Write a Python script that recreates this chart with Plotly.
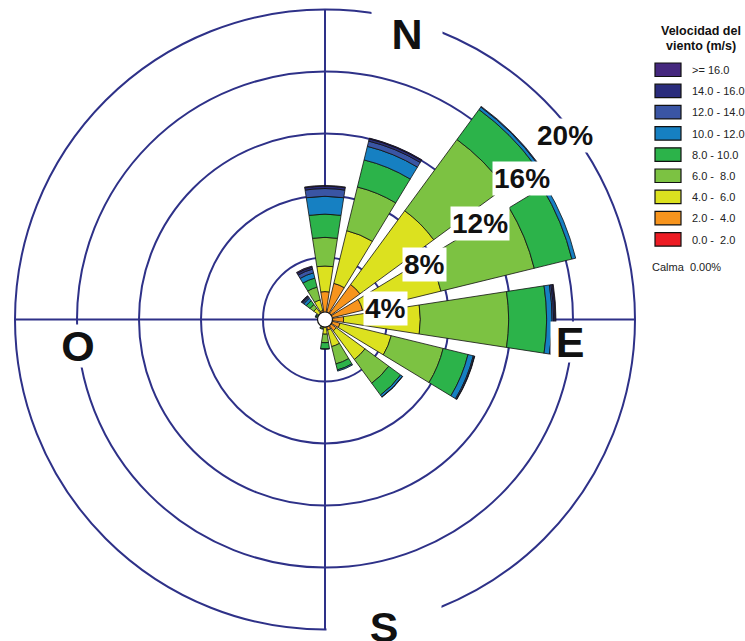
import plotly.graph_objects as go

# Canvas and polar placement (pixels)
W, H = 745, 641
CX, CY, R = 325, 319.5, 310
NAVY = "#2e3188"
FONT = "Liberation Sans, Arial, sans-serif"

# Wind directions (16 sectors, clockwise from north)
directions = ["N", "NNE", "NE", "ENE", "E", "ESE", "SE", "SSE",
              "S", "SSW", "SW", "WSW", "W", "WNW", "NW", "NNW"]
theta = [i * 22.5 for i in range(len(directions))]

# Frequency (%) per speed class and direction
s_0_2   = [0.30, 0.30, 0.30, 0.30, 0.30, 0.30, 0.25, 0.20, 0.20, 0.15, 0.10, 0.10, 0.10, 0.10, 0.20, 0.20]
s_2_4   = [1.50, 2.10, 2.50, 2.20, 0.90, 0.70, 0.65, 0.50, 0.30, 0.20, 0.10, 0.10, 0.10, 0.15, 0.30, 0.40]
s_4_6   = [1.65, 3.50, 5.90, 5.20, 4.95, 3.40, 2.30, 1.10, 0.45, 0.15, 0.10, 0.05, 0.10, 0.15, 0.40, 0.70]
s_6_8   = [1.85, 2.90, 5.70, 6.20, 5.70, 3.45, 1.90, 1.15, 0.55, 0.10, 0.05, 0.00, 0.00, 0.10, 0.30, 0.85]
s_8_10  = [1.50, 1.80, 2.40, 2.50, 2.45, 1.65, 0.95, 0.40, 0.40, 0.05, 0.00, 0.00, 0.00, 0.10, 0.30, 0.60]
s_10_12 = [1.15, 0.90, 0.20, 0.25, 0.35, 0.35, 0.15, 0.08, 0.02, 0.00, 0.00, 0.00, 0.00, 0.05, 0.20, 0.35]
s_12_14 = [0.50, 0.35, 0.05, 0.00, 0.10, 0.07, 0.02, 0.00, 0.00, 0.00, 0.00, 0.00, 0.00, 0.00, 0.10, 0.25]
s_14_16 = [0.15, 0.15, 0.00, 0.00, 0.10, 0.03, 0.00, 0.00, 0.00, 0.00, 0.00, 0.00, 0.00, 0.00, 0.07, 0.13]
s_16_up = [0.05, 0.05, 0.00, 0.00, 0.05, 0.00, 0.00, 0.00, 0.00, 0.00, 0.00, 0.00, 0.00, 0.00, 0.03, 0.07]

speed_labels = ["0.0 -  2.0", "2.0 -  4.0", "4.0 -  6.0", "6.0 -  8.0", "8.0 - 10.0",
                "10.0 - 12.0", "12.0 - 14.0", "14.0 - 16.0", ">= 16.0"]
speed_colors = ["#ed1c24", "#f7941d", "#dce11f", "#7cc242", "#2cb34a",
                "#1680c2", "#3a55a4", "#2a2c7c", "#45287e"]
series = [s_0_2, s_2_4, s_4_6, s_6_8, s_8_10, s_10_12, s_12_14, s_14_16, s_16_up]

ring_values = [4, 8, 12, 16, 20]
calm_pct = 0.00

fig = go.Figure()
for name, col, vals in zip(speed_labels, speed_colors, series):
    fig.add_trace(go.Barpolar(
        r=[v if v > 0 else None for v in vals],
        theta=theta,
        width=17.5,
        name=name,
        marker=dict(color=col, line=dict(color="#111111", width=0.8)),
        showlegend=False,
        hoverinfo="skip",
    ))

# white calm circle at the centre
fig.add_trace(go.Scatterpolar(
    r=[0], theta=[0], mode="markers",
    marker=dict(size=15, color="white", line=dict(color="#111111", width=1.2)),
    showlegend=False, hoverinfo="skip",
))


def px(x, y):
    return x / W, 1 - y / H


annotations = []
shapes = []

# ring labels with white boxes
ring_label_pos = [(385, 309), (425, 265), (480, 223.5), (521.5, 178), (565, 135)]
for val, (x, y) in zip(ring_values, ring_label_pos):
    ax, ay = px(x, y)
    annotations.append(dict(
        x=ax, y=ay, xref="paper", yref="paper", text=f"<b>{val}%</b>",
        showarrow=False, xanchor="center", yanchor="middle",
        font=dict(family=FONT, size=28, color="#111111"),
        bgcolor="white", borderpad=1,
    ))

# compass labels
compass = [("N", 407, 34, 70, None), ("E", 570, 342, 38, 40),
           ("S", 384, 627, 114, None), ("O", 78, 346, 40, 42)]
for txt, x, y, w, h in compass:
    ax, ay = px(x, y)
    a = dict(x=ax, y=ay, xref="paper", yref="paper", text=f"<b>{txt}</b>",
             showarrow=False, xanchor="center", yanchor="middle",
             font=dict(family=FONT, size=43, color="#111111"),
             bgcolor="white", width=w, borderpad=0)
    if h:
        a["height"] = h
    annotations.append(a)

# legend title
for txt, y in [("Velocidad del", 31), ("viento (m/s)", 46)]:
    ax, ay = px(701, y)
    annotations.append(dict(x=ax, y=ay, xref="paper", yref="paper",
                            text=f"<b>{txt}</b>", showarrow=False,
                            xanchor="center", yanchor="middle",
                            font=dict(family=FONT, size=12.5, color="#111111")))

# legend swatches, top = strongest class
for i, (name, col) in enumerate(zip(speed_labels[::-1], speed_colors[::-1])):
    top = 63 + 21.2 * i
    x0, y1 = px(655, top)
    x1, y0 = px(681, top + 13.5)
    shapes.append(dict(type="rect", xref="paper", yref="paper",
                       x0=x0, x1=x1, y0=y0, y1=y1, fillcolor=col,
                       line=dict(color="#111111", width=1.2)))
    lx, ly = px(690, top + 7)
    annotations.append(dict(x=lx, y=ly, xref="paper", yref="paper",
                            text=name.replace(" ", "\u00a0"), showarrow=False,
                            xanchor="left", yanchor="middle",
                            font=dict(family=FONT, size=11, color="#222222")))

cx_, cy_ = px(650, 267)
annotations.append(dict(x=cx_, y=cy_, xref="paper", yref="paper",
                        text=f"Calma\u00a0 {calm_pct:.2f}%", showarrow=False,
                        xanchor="left", yanchor="middle",
                        font=dict(family=FONT, size=11, color="#222222")))

fig.update_layout(
    width=W, height=H,
    margin=dict(l=0, r=0, t=0, b=0),
    paper_bgcolor="white",
    showlegend=False,
    annotations=annotations,
    shapes=shapes,
    polar=dict(
        domain=dict(x=[(CX - R) / W, (CX + R) / W],
                    y=[(H - CY - R) / H, (H - CY + R) / H]),
        bgcolor="white",
        barmode="stack",
        radialaxis=dict(range=[0, 20], tickvals=ring_values[:-1],
                        showticklabels=False, ticks="", showline=False,
                        gridcolor=NAVY, gridwidth=2, layer="below traces"),
        angularaxis=dict(direction="clockwise", rotation=90,
                         tickvals=[0, 90, 180, 270], showticklabels=False,
                         ticks="", gridcolor=NAVY, gridwidth=2,
                         showline=True, linecolor=NAVY, linewidth=2,
                         layer="below traces"),
    ),
)

fig.write_html("out.html")
